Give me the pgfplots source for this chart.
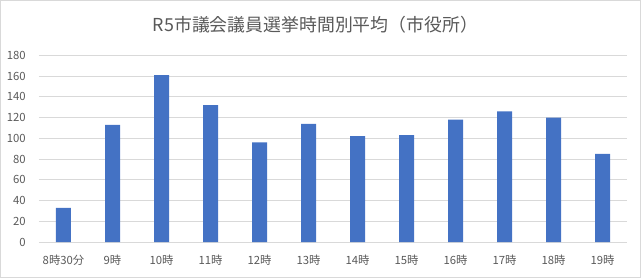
\documentclass[border=0pt]{standalone}
\usepackage{fontspec}
\setmainfont{Noto Sans CJK JP}
\usepackage{pgfplots}
\pgfplotsset{compat=1.18}
\definecolor{txt}{HTML}{595959}
\definecolor{gridc}{HTML}{D9D9D9}
\definecolor{bar}{HTML}{4472C4}
\begin{document}
\begin{tikzpicture}
\path[use as bounding box] (0,0) rectangle (480.75pt,208.5pt);
\draw[gridc, line width=0.75pt] (0.4pt,0.4pt) rectangle (480.35pt,208.1pt);
\node[text=txt, font=\fontsize{13.4pt}{15pt}\selectfont, inner sep=0pt] at (236.6pt,189.75pt) {R5市議会議員選挙時間別平均（市役所）};
\begin{axis}[
  at={(29.25pt,27pt)}, anchor=south west,
  scale only axis, width=441pt, height=140pt,
  xmin=-0.5, xmax=11.5, ymin=0, ymax=180,
  ytick={0,20,...,180},
  xtick={0,...,11},
  xticklabels={8時30分,9時,10時,11時,12時,13時,14時,15時,16時,17時,18時,19時},
  axis line style={draw=none},
  major tick length=0pt,
  ymajorgrids, grid style={gridc, line width=0.75pt},
  /pgf/number format/assume math mode=true,
  tick label style={text=txt, font=\fontsize{8.5pt}{10pt}\selectfont, inner sep=0pt},
  yticklabel style={anchor=east, xshift=-9.75pt},
  xticklabel style={anchor=base, yshift=-16.5pt},
  clip=false,
]
\addplot[ybar, bar width=11.25pt, fill=bar, draw=none] coordinates {
(0,33) (1,113) (2,161) (3,132) (4,96) (5,114) (6,102) (7,103) (8,118) (9,126) (10,120) (11,85)};
\end{axis}
\end{tikzpicture}
\end{document}
